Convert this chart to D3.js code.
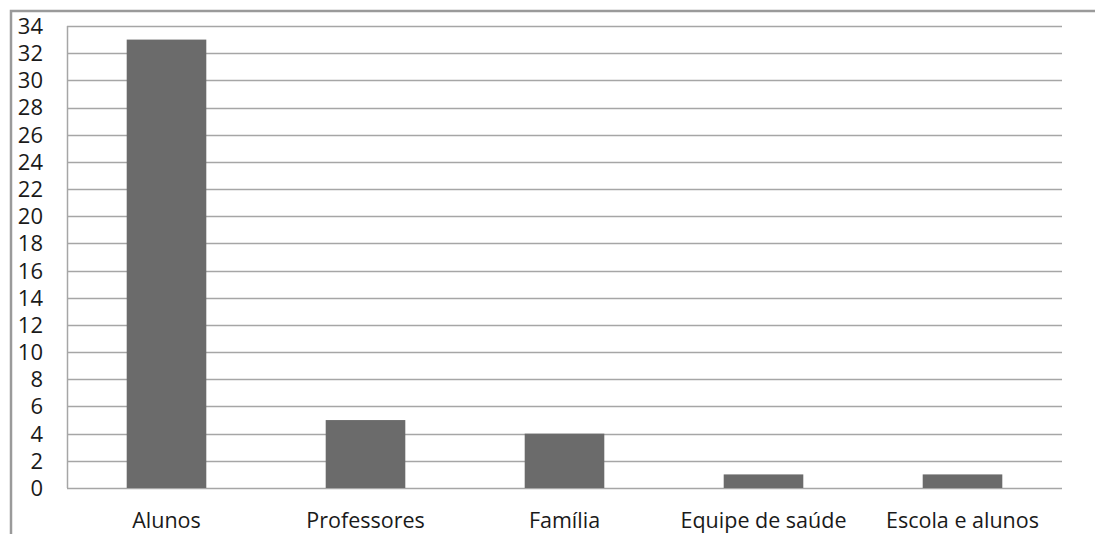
<!DOCTYPE html>
<html>
<head>
<meta charset="utf-8">
<script src="https://cdn.jsdelivr.net/npm/d3@7"></script>
<style>
  html, body { margin: 0; padding: 0; background: #ffffff; }
  svg { display: block; }
  text { font-family: "Open Sans", sans-serif; fill: #1a1a1a; }
</style>
</head>
<body>
<svg id="chart" width="1095" height="534"></svg>
<script>
// Responsáveis citados (contagem)
const categories = ["Alunos", "Professores", "Família", "Equipe de saúde", "Escola e alunos"];
const values = [33, 5, 4, 1, 1];
const yTicks = d3.range(0, 35, 2);

const W = 1095, H = 534;
const plot = { left: 67, right: 1062, top: 26, bottom: 488 };

const svg = d3.select("#chart");

// outer chart frame (only top and left edges fall inside the view)
svg.append("path")
  .attr("d", `M11,${H + 2} V11 H${W + 2}`)
  .attr("fill", "none")
  .attr("stroke", "#9a9a9a")
  .attr("stroke-width", 2.5);

const x = d3.scaleBand()
  .domain(categories)
  .range([plot.left, plot.right])
  .padding(0);

const y = d3.scaleLinear()
  .domain([0, 34])
  .range([plot.bottom, plot.top]);

// horizontal gridlines
svg.append("g")
  .selectAll("line")
  .data(yTicks)
  .join("line")
  .attr("x1", plot.left)
  .attr("x2", plot.right)
  .attr("y1", d => Math.round(y(d)) + 0.5)
  .attr("y2", d => Math.round(y(d)) + 0.5)
  .attr("stroke", "#a6a6a6")
  .attr("stroke-width", 1.5);

// left axis line
svg.append("line")
  .attr("x1", plot.left + 0.5).attr("x2", plot.left + 0.5)
  .attr("y1", plot.top).attr("y2", plot.bottom)
  .attr("stroke", "#a6a6a6")
  .attr("stroke-width", 1.5);

// bars: width is 40% of each category slot, centred
const barW = x.bandwidth() * 0.4;
svg.append("g")
  .selectAll("rect")
  .data(categories.map((c, i) => ({ c, v: values[i] })))
  .join("rect")
  .attr("x", d => x(d.c) + (x.bandwidth() - barW) / 2)
  .attr("y", d => y(d.v))
  .attr("width", barW)
  .attr("height", d => y(0) - y(d.v))
  .attr("fill", "#6b6b6b");

// y tick labels
svg.append("g")
  .selectAll("text")
  .data(yTicks)
  .join("text")
  .attr("x", 43)
  .attr("y", d => y(d))
  .attr("dy", "0.36em")
  .attr("text-anchor", "end")
  .style("font-size", "22px")
  .text(d => d);

// category labels
svg.append("g")
  .selectAll("text")
  .data(categories)
  .join("text")
  .attr("x", d => x(d) + x.bandwidth() / 2)
  .attr("y", 528)
  .attr("text-anchor", "middle")
  .style("font-size", "21.5px")
  .text(d => d);
</script>
</body>
</html>
